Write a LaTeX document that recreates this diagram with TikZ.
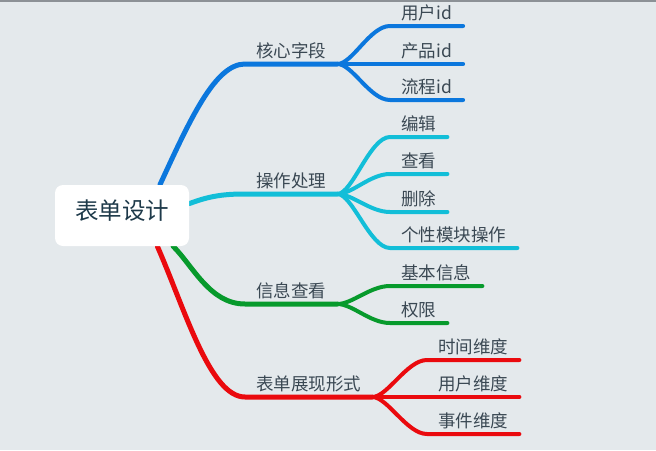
\documentclass[tikz,border=0pt]{standalone}
\usepackage{fontspec}
\setmainfont{Noto Sans CJK SC}

\pgfdeclarelayer{paper}
\pgfdeclarelayer{wires}
\pgfsetlayers{paper,wires,main}

\begin{document}
\begin{tikzpicture}[x=1pt, y=-1pt,
    topic/.style={anchor=south west, inner xsep=11pt, inner ysep=6pt, text depth=0pt,
      font=\fontsize{17.5}{20}\selectfont, text=ink},
    trunk/.style={line width=5pt, line cap=round},
    twig/.style={line width=4pt, line cap=round}]
  \definecolor{ink}{HTML}{3A4853}
  \definecolor{rootink}{HTML}{1E3A4A}
  \definecolor{paper}{HTML}{E4E9EC}
  \definecolor{rule}{HTML}{8C9196}
  \definecolor{blue}{HTML}{0B77DD}
  \definecolor{cyan}{HTML}{12BED8}
  \definecolor{green}{HTML}{079A2C}
  \definecolor{red}{HTML}{EA0A0E}
  \useasboundingbox (0,0) rectangle (656,450);
  \begin{pgfonlayer}{paper}
    \fill[paper] (0,0) rectangle (656,450);
    \draw[rule, line width=1.5pt] (0,0.75) -- (656,0.75);
  \end{pgfonlayer}

  \node[fill=white, rounded corners=8pt, minimum width=134pt, minimum height=61pt,
    text=rootink, font=\fontsize{23.5}{26}\selectfont, text height=0.8em, text depth=0.1em]
    (root) at (122,215.5) {表单设计};

  % main topics
  \node[topic] (fields) at (245,64) {核心字段};
  \node[topic] (ops) at (245,194) {操作处理};
  \node[topic] (info) at (245,304) {信息查看};
  \node[topic] (view) at (245,397) {表单展现形式};

  % sub topics
  \node[topic] (uid) at (390,26) {用户id};
  \node[topic] (pid) at (390,64) {产品id};
  \node[topic] (fid) at (390,100) {流程id};
  \node[topic] (edit) at (390,137) {编辑};
  \node[topic] (look) at (390,174) {查看};
  \node[topic] (del) at (390,212) {删除};
  \node[topic] (mod) at (390,248) {个性模块操作};
  \node[topic] (basic) at (390,286) {基本信息};
  \node[topic] (perm) at (390,323) {权限};
  \node[topic] (tdim) at (427,360) {时间维度};
  \node[topic] (udim) at (427,397) {用户维度};
  \node[topic] (edim) at (427,434) {事件维度};

  \begin{pgfonlayer}{wires}
    \draw[trunk, blue] (root.39) .. controls +(30,-65) and +(-30,0) .. (fields.south west) -- (fields.south east);
    \draw[trunk, cyan] (root.10) .. controls +(21,-8) and +(-20,0) .. (ops.south west) -- (ops.south east);
    \draw[trunk, green] (root.-31) .. controls +(20,20) and +(-35,0) .. (info.south west) -- (info.south east);
    \draw[trunk, red] (root.-41) .. controls +(28,64) and +(-35,0) .. (view.south west) -- (view.south east);

    \foreach \leaf in {uid,pid,fid}
      \draw[twig, blue] (fields.south east) .. controls +(15,0) and +(-20,0) .. (\leaf.south west) -- (\leaf.south east);
    \foreach \leaf in {edit,look,del,mod}
      \draw[twig, cyan] (ops.south east) .. controls +(15,0) and +(-20,0) .. (\leaf.south west) -- (\leaf.south east);
    \foreach \leaf in {basic,perm}
      \draw[twig, green] (info.south east) .. controls +(15,0) and +(-20,0) .. (\leaf.south west) -- (\leaf.south east);
    \foreach \leaf in {tdim,udim,edim}
      \draw[twig, red] (view.south east) .. controls +(15,0) and +(-20,0) .. (\leaf.south west) -- (\leaf.south east);
  \end{pgfonlayer}
\end{tikzpicture}
\end{document}
